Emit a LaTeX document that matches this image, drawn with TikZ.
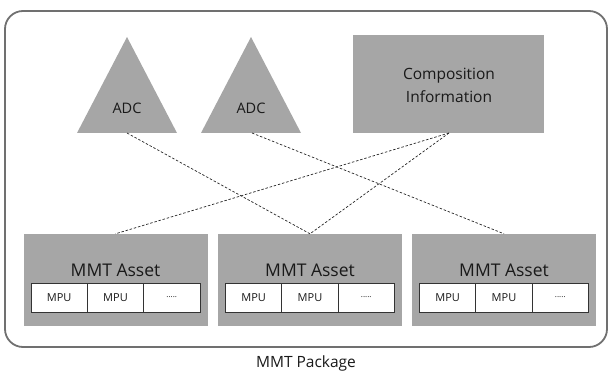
\documentclass[tikz,border=0pt]{standalone}
\usepackage{fontspec}
\setmainfont{Open Sans}
\begin{document}
\begin{tikzpicture}[x=1pt,y=-1pt,
  every node/.style={text=black!90},
  boxfill/.style={fill=boxgray, draw=none},
  assetbox/.style={boxfill, minimum width=184pt, minimum height=92pt, inner sep=0pt},
  mpucell/.style={draw=black!80, line width=0.8pt, fill=white, minimum width=56.3pt, minimum height=29pt, inner sep=0pt, font=\fontsize{11}{12}\selectfont},
  link/.style={dashed, dash pattern=on 2.5pt off 1.8pt, line width=0.7pt, draw=black!85}]
\definecolor{boxgray}{HTML}{A6A6A6}
\definecolor{framegray}{HTML}{707070}
\useasboundingbox (0,0) rectangle (609,374);

% package frame
\node[draw=framegray, line width=1.8pt, rounded corners=18pt, minimum width=602pt, minimum height=336pt, inner sep=0pt] (pkg) at (306,179) {};
\node[font=\fontsize{15.5}{16}\selectfont] (pkglabel) at (306,363) {MMT Package};

% ADC triangles
\fill[boxgray] (77,133) -- (127,37) -- (177,133) -- cycle;
\fill[boxgray] (201,133) -- (251,37) -- (301,133) -- cycle;
\node[font=\fontsize{14.5}{16}\selectfont] (adc1) at (127,108) {ADC};
\node[font=\fontsize{14.5}{16}\selectfont] (adc2) at (251,108) {ADC};
\coordinate (adc1b) at (127,133);
\coordinate (adc2b) at (252,133);

% composition information
\node[boxfill, minimum width=191pt, minimum height=98pt, inner sep=0pt] (comp) at (448.5,84) {};
\node[font=\fontsize{15.5}{23}\selectfont, align=center] (comptext) at (449,85) {Composition\\Information};
\coordinate (compb) at (449,133);

% assets with MPU rows
\foreach \i/\cx in {1/115.5, 2/310, 3/504} {
  \node[assetbox] (asset\i) at (\cx,280) {};
  \node[font=\fontsize{17.5}{18}\selectfont] (title\i) at (\cx,270) {MMT Asset};
  \node[mpucell] (mpuA\i) at (\cx-56.3,297.5) {MPU};
  \node[mpucell] (mpuB\i) at (\cx,297.5) {MPU};
  \node[mpucell, font=\fontsize{8}{9}\selectfont] (mpuC\i) at (\cx+56.3,297.5) {.....};
}

% relations
\draw[link] (adc1b) -- (asset2.north);
\draw[link] (adc2b) -- (asset3.north);
\draw[link] (compb) -- (asset1.north);
\draw[link] (compb) -- (asset2.north);
\end{tikzpicture}
\end{document}
